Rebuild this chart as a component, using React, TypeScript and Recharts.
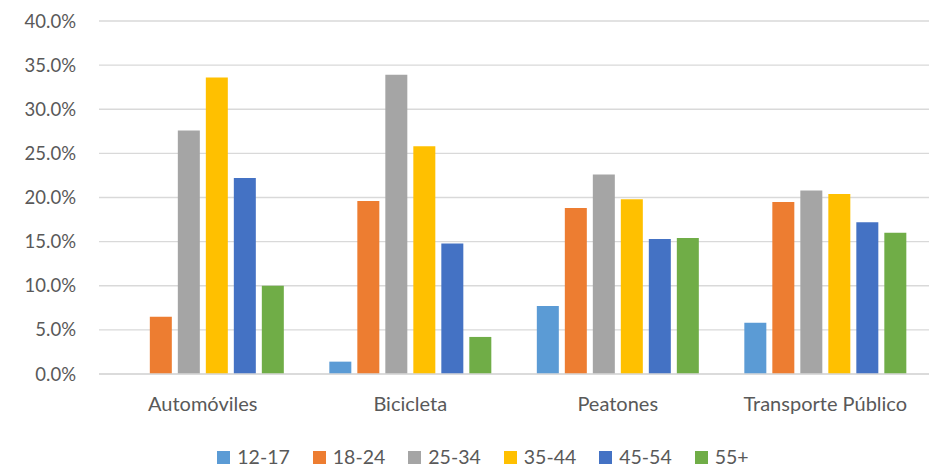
import React from "react";
import {
  Bar,
  BarChart,
  CartesianGrid,
  XAxis,
  YAxis,
  Legend,
} from "recharts";

const categories = ["Automóviles", "Bicicleta", "Peatones", "Transporte Público"];
const ageGroups = ["12-17", "18-24", "25-34", "35-44", "45-54", "55+"];

const age12to17 = [0, 1.4, 7.7, 5.8];
const age18to24 = [6.5, 19.6, 18.8, 19.5];
const age25to34 = [27.6, 33.9, 22.6, 20.8];
const age35to44 = [33.6, 25.8, 19.8, 20.4];
const age45to54 = [22.2, 14.8, 15.3, 17.2];
const age55plus = [10.0, 4.2, 15.4, 16.0];

const yTicks = [0, 5, 10, 15, 20, 25, 30, 35, 40];

const series = [age12to17, age18to24, age25to34, age35to44, age45to54, age55plus];
const colors = ["#5B9BD5", "#ED7D31", "#A5A5A5", "#FFC000", "#4472C4", "#70AD47"];

const data = categories.map((name, i) => {
  const row: Record<string, string | number> = { name };
  ageGroups.forEach((g, j) => {
    row[g] = series[j][i];
  });
  return row;
});

const font = "Lato, 'Liberation Sans', sans-serif";
const textColor = "#595959";

function LegendContent(props: any) {
  const payload = props.payload || [];
  return (
    <div
      style={{
        display: "flex",
        justifyContent: "center",
        alignItems: "center",
        height: 20,
        lineHeight: "20px",
        paddingLeft: 36,
        fontFamily: font,
        fontSize: 19.5,
        color: textColor,
      }}
    >
      {payload.map((p: any, i: number) => (
        <div
          key={p.value}
          style={{
            display: "flex",
            alignItems: "center",
            marginRight: i < payload.length - 1 ? 23 : 0,
          }}
        >
          <span
            style={{
              display: "inline-block",
              width: 13,
              height: 13,
              background: p.color,
              marginRight: 7,
            }}
          />
          <span>{p.value}</span>
        </div>
      ))}
    </div>
  );
}

export default function App() {
  return (
    <div style={{ position: "absolute", left: 0, top: 0, background: "#fff" }}>
      <BarChart
        width={930}
        height={467}
        data={data}
        margin={{ top: 21, right: 1, left: 0, bottom: 33 }}
        barCategoryGap="11%"
        barGap={6}
      >
        <CartesianGrid vertical={false} stroke="#D9D9D9" strokeWidth={1.3} />
        <XAxis
          dataKey="name"
          height={40}
          axisLine={{ stroke: "#D9D9D9", strokeWidth: 1.3 }}
          tickLine={false}
          tickSize={0}
          tickMargin={23}
          tick={{ fontFamily: font, fontSize: 20, fill: textColor }}
          interval={0}
        />
        <YAxis
          width={99}
          domain={[0, 40]}
          ticks={yTicks}
          axisLine={false}
          tickLine={false}
          tickSize={0}
          tickMargin={23}
          tickFormatter={(v: number) => `${v.toFixed(1)}%`}
          tick={{ fontFamily: font, fontSize: 18.5, fill: textColor }}
        />
        <Legend
          verticalAlign="bottom"
          content={<LegendContent />}
          wrapperStyle={{ top: 447, bottom: "auto", left: 0, width: 930 }}
        />
        {ageGroups.map((g, j) => (
          <Bar key={g} dataKey={g} fill={colors[j]} isAnimationActive={false} />
        ))}
      </BarChart>
    </div>
  );
}
